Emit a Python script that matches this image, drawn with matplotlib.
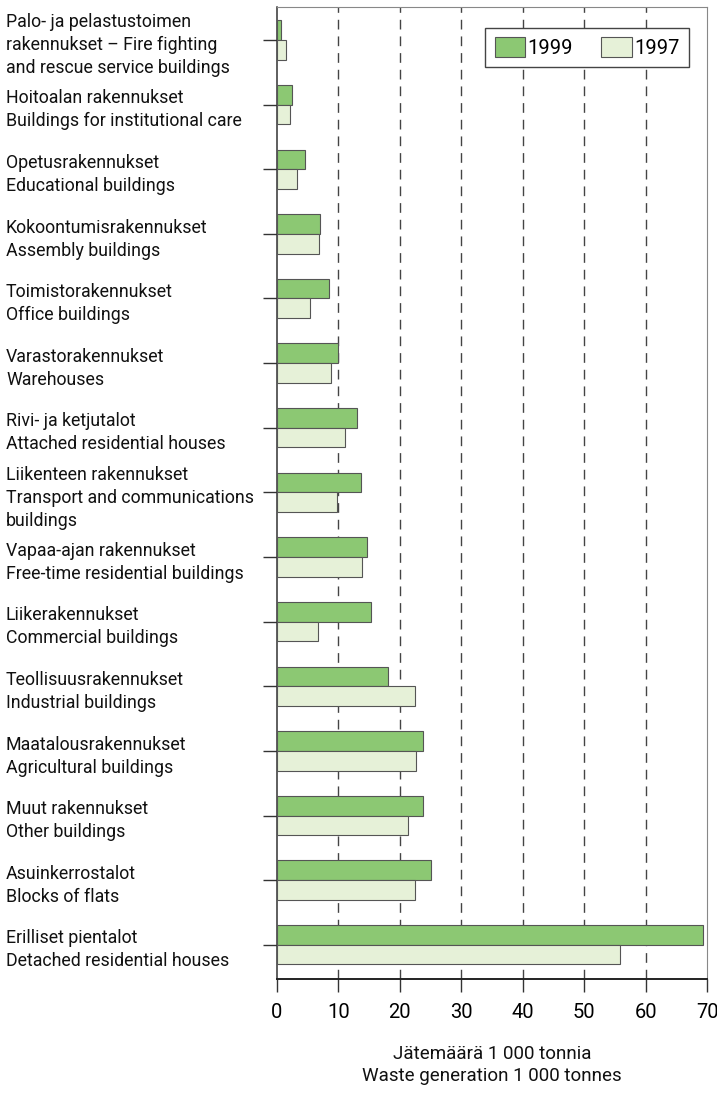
import matplotlib
matplotlib.use("Agg")
import matplotlib.pyplot as plt
import matplotlib.transforms as mtransforms
import numpy as np

plt.rcParams['font.family'] = ['Roboto', 'DejaVu Sans']

# rakennustyypit ylhäältä alas
categories = [
    "Palo- ja pelastustoimen\nrakennukset \u2013 Fire fighting\nand rescue service buildings",
    "Hoitoalan rakennukset\nBuildings for institutional care",
    "Opetusrakennukset\nEducational buildings",
    "Kokoontumisrakennukset\nAssembly buildings",
    "Toimistorakennukset\nOffice buildings",
    "Varastorakennukset\nWarehouses",
    "Rivi- ja ketjutalot\nAttached residential houses",
    "Liikenteen rakennukset\nTransport and communications\nbuildings",
    "Vapaa-ajan rakennukset\nFree-time residential buildings",
    "Liikerakennukset\nCommercial buildings",
    "Teollisuusrakennukset\nIndustrial buildings",
    "Maatalousrakennukset\nAgricultural buildings",
    "Muut rakennukset\nOther buildings",
    "Asuinkerrostalot\nBlocks of flats",
    "Erilliset pientalot\nDetached residential houses",
]
waste_1999 = [0.6, 2.5, 4.5, 7.0, 8.5, 10.0, 13.0, 13.6, 14.7, 15.3, 18.1, 23.7, 23.8, 25.0, 69.3]
waste_1997 = [1.4, 2.2, 3.3, 6.8, 5.3, 8.8, 11.1, 9.7, 13.8, 6.7, 22.4, 22.7, 21.4, 22.4, 55.8]
xticks = [0, 10, 20, 30, 40, 50, 60, 70]

c99 = '#8cc873'
c97 = '#e6f1d8'
edge = '#555555'

fig = plt.figure(figsize=(7.17, 10.95), dpi=100)
ax = fig.add_axes([0.3863, 0.1059, 0.6, 0.8877])

y = np.arange(len(categories))
h = 0.305
ax.barh(y - h / 2, waste_1999, height=h, color=c99, edgecolor=edge, linewidth=0.8,
        label='1999', zorder=3)
ax.barh(y + h / 2, waste_1997, height=h, color=c97, edgecolor=edge, linewidth=0.8,
        label='1997', zorder=3)

ax.set_xlim(0, 70)
ax.set_ylim(14.53, -0.51)
ax.set_xticks(xticks)
ax.set_xticklabels([str(t) for t in xticks], fontsize=14.5)
ax.tick_params(axis='x', length=9.5, width=1.0, color='#333333', pad=8)

# kategorianimet vasempaan reunaan
ax.set_yticks(y)
ax.set_yticklabels([])
ax.tick_params(axis='y', length=10, width=1.0, color='#333333')
trans = mtransforms.blended_transform_factory(fig.transFigure, ax.transData)
for i, lab in enumerate(categories):
    ax.text(6 / 717, i + 0.08, lab, transform=trans, ha='left', va='center',
            fontsize=12.8, linespacing=1.36, color='#111111')

for x in xticks[1:-1]:
    ax.axvline(x, color='#444444', linestyle=(0, (7, 5)), linewidth=1.0, zorder=1)

ax.spines['left'].set_color('#333333')
ax.spines['left'].set_linewidth(1.1)
ax.spines['bottom'].set_color('#222222')
ax.spines['bottom'].set_linewidth(1.4)
ax.spines['top'].set_color('#888888')
ax.spines['top'].set_linewidth(0.8)
ax.spines['right'].set_color('#888888')
ax.spines['right'].set_linewidth(0.8)

leg = ax.legend(loc='upper right', bbox_to_anchor=(0.958, 0.978), ncol=2, fontsize=14.5,
                frameon=True, fancybox=False, edgecolor='#444444', framealpha=1,
                handlelength=1.5, handleheight=1.1, handletextpad=0.15,
                columnspacing=1.4, borderpad=0.45, borderaxespad=0)
leg.get_frame().set_linewidth(1.0)

fig.text(492 / 717, 1 - 1065 / 1095, "J\u00e4tem\u00e4\u00e4r\u00e4 1 000 tonnia\nWaste generation 1 000 tonnes",
         ha='center', va='center', fontsize=13.5, linespacing=1.3, color='#111111')

fig.savefig('out.png', dpi=100)
